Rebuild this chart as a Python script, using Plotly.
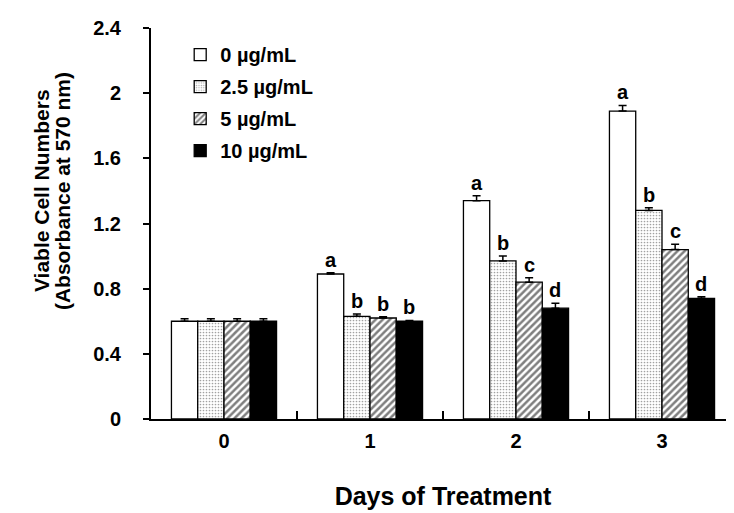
import plotly.graph_objects as go

days = [0, 1, 2, 3]
day_labels = ["0", "1", "2", "3"]
doses = ["0 µg/mL", "2.5 µg/mL", "5 µg/mL", "10 µg/mL"]

# absorbance at 570 nm per dose, for days 0..3
viable = {
    "0 µg/mL": [0.60, 0.89, 1.34, 1.89],
    "2.5 µg/mL": [0.60, 0.63, 0.97, 1.28],
    "5 µg/mL": [0.60, 0.62, 0.84, 1.04],
    "10 µg/mL": [0.60, 0.60, 0.68, 0.74],
}
errors = {
    "0 µg/mL": [0.015, 0.008, 0.03, 0.035],
    "2.5 µg/mL": [0.015, 0.014, 0.03, 0.016],
    "5 µg/mL": [0.015, 0.008, 0.027, 0.033],
    "10 µg/mL": [0.015, 0.005, 0.03, 0.01],
}
letters = {
    "0 µg/mL": ["", "a", "a", "a"],
    "2.5 µg/mL": ["", "b", "b", "b"],
    "5 µg/mL": ["", "b", "c", "c"],
    "10 µg/mL": ["", "b", "d", "d"],
}
y_ticks = [0, 0.4, 0.8, 1.2, 1.6, 2.0, 2.4]
y_tick_labels = ["0", "0.4", "0.8", "1.2", "1.6", "2", "2.4"]

styles = {
    "0 µg/mL": dict(color="white"),
    "2.5 µg/mL": dict(color="white", pattern=dict(shape=".", fgcolor="#444444", size=3, solidity=0.25)),
    "5 µg/mL": dict(color="white", pattern=dict(shape="/", fgcolor="black", size=5, solidity=0.5)),
    "10 µg/mL": dict(color="black"),
}

bar_w = 0.18
font = "Arial, Liberation Sans, sans-serif"

fig = go.Figure()
annotations = []
for i, dose in enumerate(doses):
    off = -2 * bar_w + i * bar_w
    fig.add_trace(go.Bar(
        x=days, y=viable[dose], name="<b>%s</b>" % dose,
        width=bar_w, offset=off,
        marker=dict(line=dict(color="black", width=1.3), **styles[dose]),
        error_y=dict(type="data", array=errors[dose], symmetric=False,
                     arrayminus=[0] * 4, color="black", thickness=1.5, width=4),
        legendgroup=dose,
    ))
    # significance letters just above the error bar caps
    for d, v, e, t in zip(days, viable[dose], errors[dose], letters[dose]):
        if t:
            annotations.append(dict(
                x=d + off + bar_w / 2, y=v + e, text="<b>%s</b>" % t,
                showarrow=False, yanchor="bottom", yshift=0,
                font=dict(size=20, color="black", family=font),
            ))

# y axis title as two tightly spaced lines
for txt, px_x in [("Viable Cell Numbers", 33), ("(Absorbance at 570 nm)", 54)]:
    annotations.append(dict(
        x=(px_x - 143) / 584, y=0.583, xref="paper", yref="paper",
        text="<b>%s</b>" % txt, textangle=-90, showarrow=False,
        xanchor="center", yanchor="middle",
        font=dict(size=21, color="black", family=font),
    ))

fig.update_layout(
    width=734, height=513,
    margin=dict(l=143, r=7, t=20, b=102),
    plot_bgcolor="white", paper_bgcolor="white",
    font=dict(family=font, color="black"),
    annotations=annotations,
    showlegend=True,
    legend=dict(
        x=0.05, y=0.982, xanchor="left", yanchor="top",
        font=dict(size=20, family=font), tracegroupgap=3,
        bgcolor="rgba(0,0,0,0)", itemwidth=30,
    ),
    xaxis=dict(
        range=[-0.5, 3.5], tickvals=days, ticktext=["<b>%s</b>" % s for s in day_labels],
        ticks="", showline=True, linecolor="black", linewidth=2,
        tickfont=dict(size=20), showgrid=False, zeroline=False,
        ticklabelstandoff=3,
        minor=dict(tickvals=[0.5, 1.5, 2.5, 3.499], ticks="inside", ticklen=8,
                   tickwidth=2, tickcolor="black", showgrid=False),
        title=dict(text="<b>Days of Treatment</b>", font=dict(size=25), standoff=36),
    ),
    yaxis=dict(
        range=[0, 2.4], tickvals=y_ticks,
        ticktext=["<b>%s</b>" % s for s in y_tick_labels],
        ticks="outside", ticklen=6, tickwidth=2, tickcolor="black",
        showline=True, linecolor="black", linewidth=2,
        tickfont=dict(size=20), showgrid=False, zeroline=False,
        ticklabelstandoff=18,
    ),
)

fig.write_html("out.html")
